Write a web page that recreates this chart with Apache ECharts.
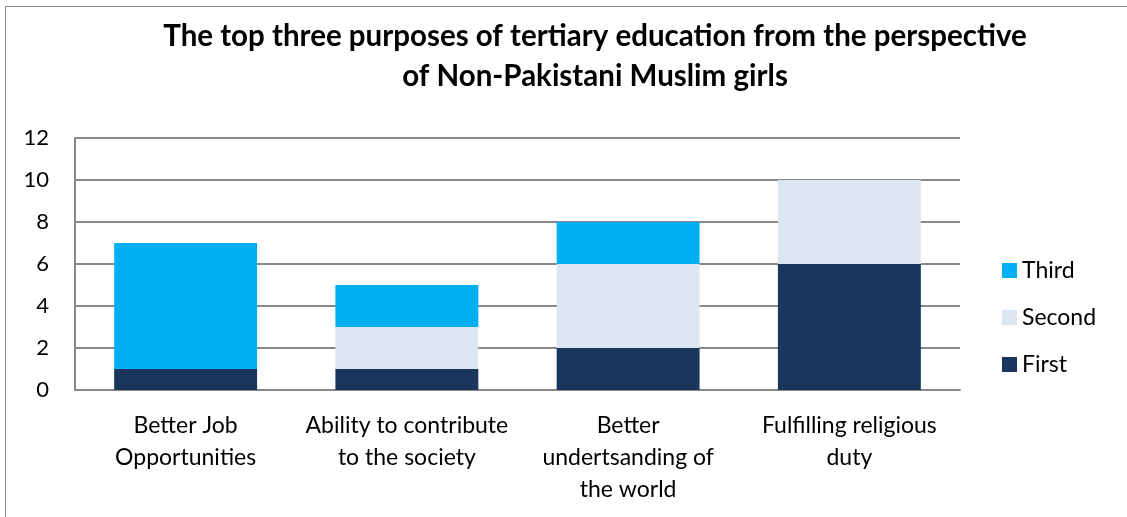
<!DOCTYPE html>
<html>
<head>
<meta charset="utf-8">
<script src="https://cdn.jsdelivr.net/npm/echarts@6/dist/echarts.min.js"></script>
<style>
  html, body { margin: 0; padding: 0; background: #fff; overflow: hidden; }
  #frame {
    position: absolute; left: 5px; top: 6px; width: 1130px; height: 520px;
    border: 1px solid #8c8c8c; box-sizing: border-box;
  }
  #chart { position: absolute; left: 0; top: 0; width: 1127px; height: 517px; }
</style>
</head>
<body>
<div id="frame"></div>
<div id="chart"></div>
<script>
// categories on the x axis
const categories = [
  'Better Job\nOpportunities',
  'Ability to contribute\nto the society',
  'Better\nundertsanding of\nthe world',
  'Fulfilling religious\nduty'
];
// stacked values, bottom to top
const firstVals = [1, 1, 2, 6];
const secondVals = [0, 2, 4, 4];
const thirdVals = [6, 2, 2, 0];
const yTicks = [0, 2, 4, 6, 8, 10, 12];

const font = 'Lato, "Open Sans", sans-serif';
const chart = echarts.init(document.getElementById('chart'));

chart.setOption({
  animation: false,
  title: {
    text: 'The top three purposes of tertiary education from the perspective\nof Non-Pakistani Muslim girls',
    left: 590,
    top: 11,
    textAlign: 'center',
    textStyle: { fontFamily: font, fontWeight: 'bold', fontSize: 29.5, color: '#000', lineHeight: 40 }
  },
  legend: {
    orient: 'vertical',
    left: 997,
    top: 254,
    itemWidth: 15,
    itemHeight: 15,
    itemGap: 24,
    icon: 'rect',
    data: ['Third', 'Second', 'First'],
    textStyle: { fontFamily: font, fontSize: 23, color: '#000' }
  },
  grid: { left: 75, right: 167, top: 138, bottom: 127 },
  xAxis: {
    type: 'category',
    data: categories,
    axisLine: { show: true, lineStyle: { color: '#888', width: 2 } },
    axisTick: { show: false },
    axisLabel: { fontFamily: font, fontSize: 23, color: '#000', lineHeight: 32, margin: 20, interval: 0 }
  },
  yAxis: {
    type: 'value',
    min: yTicks[0],
    max: yTicks[yTicks.length - 1],
    interval: 2,
    axisLine: { show: true, lineStyle: { color: '#888', width: 2 } },
    axisTick: { show: false },
    axisLabel: { fontFamily: font, fontSize: 22, color: '#000', margin: 26 },
    splitLine: { lineStyle: { color: '#888', width: 2 } }
  },
  series: [
    { name: 'First', type: 'bar', stack: 'all', data: firstVals, barWidth: '64.6%', itemStyle: { color: '#1B365D' } },
    { name: 'Second', type: 'bar', stack: 'all', data: secondVals, itemStyle: { color: '#DCE6F2' } },
    { name: 'Third', type: 'bar', stack: 'all', data: thirdVals, itemStyle: { color: '#00B0F0' } }
  ]
});
</script>
</body>
</html>
